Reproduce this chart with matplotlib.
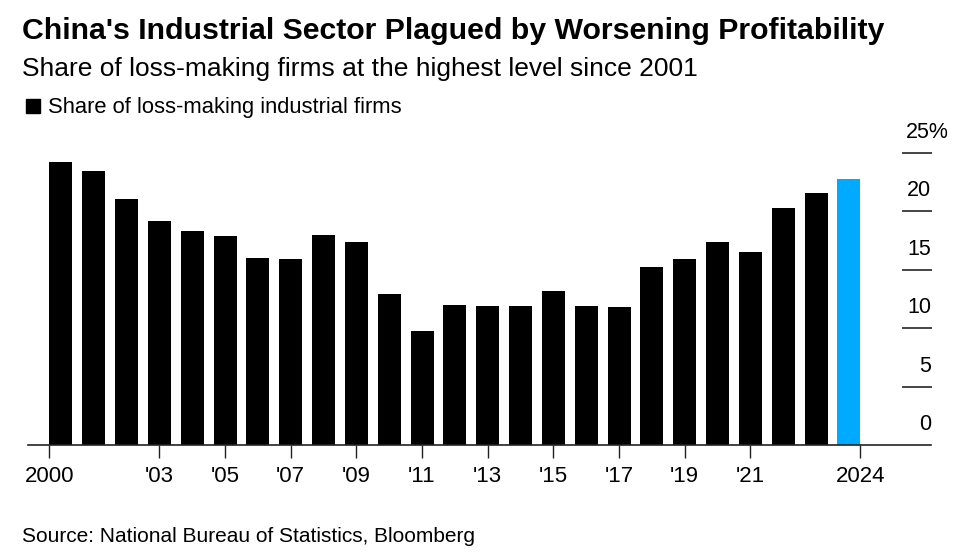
import matplotlib.pyplot as plt
import matplotlib.transforms as mtransforms

plt.rcParams['font.family'] = ['Liberation Sans', 'DejaVu Sans']

# Share of loss-making industrial firms, %
years = list(range(2000, 2025))
share = [24.2, 23.5, 21.1, 19.2, 18.3, 17.9, 16.0, 15.9, 18.0, 17.4,
         12.9, 9.8, 12.0, 11.9, 11.9, 13.2, 11.9, 11.8, 15.2, 15.9,
         17.4, 16.5, 20.3, 21.6, 22.8]
y_ticks = [0, 5, 10, 15, 20, 25]
x_ticks = [2003, 2005, 2007, 2009, 2011, 2013, 2015, 2017, 2019, 2021]

W, H = 967, 558
fig = plt.figure(figsize=(W / 100, H / 100), dpi=100)
ax = fig.add_axes([28 / W, (H - 445) / H, (931 - 28) / W, (445 - 153) / H])

bw = 0.7
colors = ['#000000'] * (len(years) - 1) + ['#00aaff']
ax.bar(years, share, width=bw, color=colors, zorder=2)

ax.set_xlim(1999.0, 2026.5)
ax.set_ylim(0, 25)

# x axis: first/last labels at the edges of the data, the rest at bar centres
ticks = [years[0] - bw / 2] + x_ticks + [years[-1] + bw / 2]
labels = ['2000'] + ["'" + str(y)[2:] for y in x_ticks] + ['2024']
ax.set_xticks(ticks)
ax.set_xticklabels(labels, fontsize=16)
ax.tick_params(axis='x', length=9, width=1, color='#222222', pad=6)

for s in ['top', 'right', 'left']:
    ax.spines[s].set_visible(False)
ax.spines['bottom'].set_color('#222222')
ax.spines['bottom'].set_linewidth(1.2)
ax.set_yticks([])

# short grid marks and labels on the right
x0 = (903 - 28) / (931 - 28)
trans = mtransforms.blended_transform_factory(ax.transAxes, ax.transData)
off = mtransforms.offset_copy(trans, fig=fig, x=0, y=10.8, units='points')
off_pct = mtransforms.offset_copy(trans, fig=fig, x=13, y=10.8, units='points')
for v in y_ticks:
    if v > 0:
        ax.axhline(v, xmin=x0, xmax=1, color='#444444', linewidth=1.4, clip_on=False)
    if v == y_ticks[-1]:
        ax.text(1.0, v, str(v) + '%', transform=off_pct, ha='right', va='baseline', fontsize=15.5)
    else:
        ax.text(1.0, v, str(v), transform=off, ha='right', va='baseline', fontsize=15.5)

# titles
fig.text(22 / W, 1 - 39 / H, "China's Industrial Sector Plagued by Worsening Profitability",
         fontsize=21.8, fontweight='bold', ha='left', va='baseline')
fig.text(22 / W, 1 - 76 / H, "Share of loss-making firms at the highest level since 2001",
         fontsize=19, ha='left', va='baseline')

# legend
fig.patches.append(plt.Rectangle((26 / W, 1 - 113 / H), 14 / W, 14 / H,
                                 transform=fig.transFigure, color='black'))
fig.text(48 / W, 1 - 113 / H, "Share of loss-making industrial firms",
         fontsize=15.8, ha='left', va='baseline')

fig.text(22 / W, 1 - 542 / H, "Source: National Bureau of Statistics, Bloomberg",
         fontsize=15, ha='left', va='baseline')

fig.savefig('out.png', dpi=100)
